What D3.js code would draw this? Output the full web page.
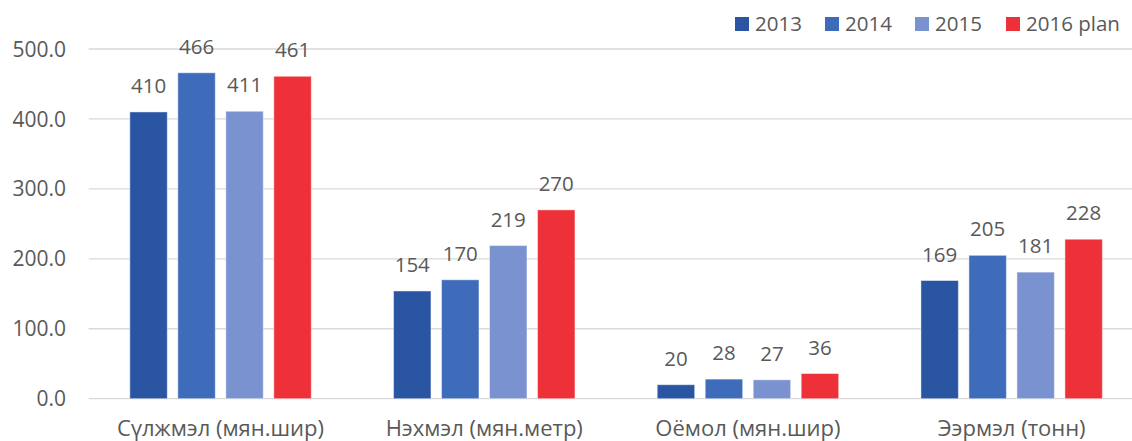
<!DOCTYPE html>
<html>
<head>
<meta charset="utf-8">
<script src="https://cdn.jsdelivr.net/npm/d3@7"></script>
<style>
  body { margin: 0; background: #fff; }
  text { font-family: "Open Sans", sans-serif; fill: #595959; }
</style>
</head>
<body>
<div id="chart"></div>
<script>
// Data
var categories = ["Сүлжмэл (мян.шир)", "Нэхмэл (мян.метр)", "Оёмол (мян.шир)", "Ээрмэл (тонн)"];
var seriesNames = ["2013", "2014", "2015", "2016 plan"];
var values2013 = [410, 154, 20, 169];
var values2014 = [466, 170, 28, 205];
var values2015 = [411, 219, 27, 181];
var values2016 = [461, 270, 36, 228];
var yTicks = [0, 100, 200, 300, 400, 500];

var colors = ["#2955A3", "#3E6BBA", "#7A93D0", "#EE3138"];
var allValues = [values2013, values2014, values2015, values2016];

var svgWidth = 1132;
var svgHeight = 441;

var svg = d3.select("#chart")
    .append("svg")
    .attr("width", svgWidth)
    .attr("height", svgHeight);

// Group scale (plot area runs a bit past the right edge, as in the reference)
var x0 = d3.scaleBand()
    .domain(categories)
    .range([88.7, 1143.5])
    .paddingInner(0.312)
    .paddingOuter(0.156);

var x1 = d3.scaleBand()
    .domain(seriesNames)
    .range([0, x0.bandwidth()])
    .paddingInner(0.22);

var y = d3.scaleLinear()
    .domain([0, 500])
    .range([398.7, 49]);

// gridlines
svg.append("g")
    .selectAll("line")
    .data(yTicks)
    .enter()
    .append("line")
    .attr("x1", 88.7)
    .attr("x2", 1143.5)
    .attr("y1", d => y(d))
    .attr("y2", d => y(d))
    .attr("stroke", "#d9d9d9")
    .attr("stroke-width", 1.3);

// y tick labels
svg.append("g")
    .selectAll("text")
    .data(yTicks)
    .enter()
    .append("text")
    .attr("x", 66)
    .attr("y", d => y(d))
    .attr("dy", "0.36em")
    .attr("text-anchor", "end")
    .attr("font-size", "21px")
    .text(d => d3.format(".1f")(d));

// bars
var groups = svg.append("g")
    .selectAll("g")
    .data(categories)
    .enter()
    .append("g")
    .attr("transform", d => `translate(${x0(d)},0)`);

groups.each(function(cat, ci) {
    var g = d3.select(this);
    var rows = seriesNames.map((s, si) => ({ s: s, v: allValues[si][ci], c: colors[si] }));

    g.selectAll("rect")
        .data(rows)
        .enter()
        .append("rect")
        .attr("x", d => x1(d.s))
        .attr("y", d => y(d.v))
        .attr("width", x1.bandwidth())
        .attr("height", d => y(0) - y(d.v))
        .attr("fill", d => d.c)
        .attr("stroke", "#ffffff")
        .attr("stroke-opacity", 0.45)
        .attr("stroke-width", 1);

    g.selectAll("text.value")
        .data(rows)
        .enter()
        .append("text")
        .attr("class", "value")
        .attr("x", d => x1(d.s) + x1.bandwidth() / 2)
        .attr("y", d => y(d.v) - 19)
        .attr("text-anchor", "middle")
        .attr("font-size", "20.5px")
        .text(d => d.v);
});

// category labels
svg.append("g")
    .selectAll("text")
    .data(categories)
    .enter()
    .append("text")
    .attr("x", d => x0(d) + x0.bandwidth() / 2)
    .attr("y", 436)
    .attr("text-anchor", "middle")
    .attr("font-size", "22px")
    .text(d => d);

// legend
var legendX = [735, 825, 915, 1006];
var legend = svg.append("g")
    .selectAll("g")
    .data(seriesNames)
    .enter()
    .append("g")
    .attr("transform", (d, i) => `translate(${legendX[i]},17)`);

legend.append("rect")
    .attr("width", 14)
    .attr("height", 14)
    .attr("fill", (d, i) => colors[i]);

legend.append("text")
    .attr("x", 20)
    .attr("y", 7)
    .attr("dy", "0.36em")
    .attr("font-size", "20.5px")
    .text(d => d);
</script>
</body>
</html>
